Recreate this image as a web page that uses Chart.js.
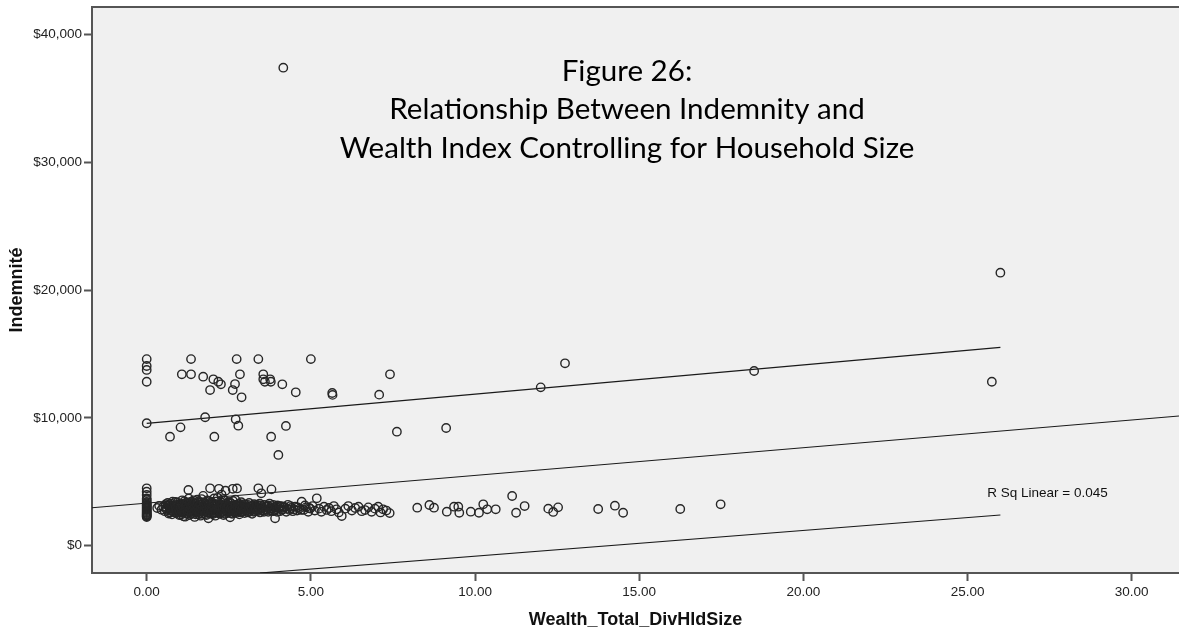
<!DOCTYPE html>
<html>
<head>
<meta charset="utf-8">
<script src="https://cdn.jsdelivr.net/npm/chart.js@4/dist/chart.umd.min.js"></script>
<style>
  html, body { margin: 0; padding: 0; background: #fff; }
  #wrap { width: 1179px; height: 632px; }
</style>
</head>
<body>
<div id="wrap"><canvas id="chart" width="1179" height="632"></canvas></div>
<script>
// axis ticks
const xTicks = [0, 5, 10, 15, 20, 25, 30];
const yTicks = [0, 10000, 20000, 30000, 40000];

// households with no recorded wealth (x = 0), low indemnity
const zeroWealthLow = [2240, 2300, 2360, 2420, 2480, 2550, 2620, 2700, 2780, 2850, 2930, 3000,
  3080, 3150, 3230, 3320, 3420, 3570, 3700, 3970, 4230, 4490];

// main low-indemnity cluster [wealth, indemnity]
const lowCluster = [
  [0.32, 2950], [0.38, 3120], [0.45, 2820], [0.5, 3050], [0.55, 2700], [0.58, 3250], [0.62, 2900],
  [0.66, 3150], [0.7, 2600], [0.68, 3000],
  [0.72, 2780], [0.74, 3300], [0.77, 2450], [0.8, 3080], [0.82, 2650], [0.85, 2900], [0.87, 3420],
  [0.9, 2550], [0.92, 3180], [0.95, 2750], [0.97, 3000], [0.99, 2400],
  [1.01, 3250], [1.03, 2850], [1.06, 2600], [1.08, 3550], [1.1, 2950], [1.12, 2300], [1.14, 3150],
  [1.17, 2700], [1.19, 3350], [1.21, 2500], [1.23, 3050], [1.25, 2800], [1.27, 4360], [1.28, 3700],
  [1.3, 2400], [1.32, 3200], [1.34, 2650], [1.36, 2950], [1.38, 3450], [1.4, 2550], [1.42, 3100],
  [1.44, 2750], [1.46, 2250], [1.48, 3300], [1.5, 2900], [1.17, 2270],
  [1.52, 2600], [1.54, 3600], [1.56, 3000], [1.58, 2450], [1.6, 3250], [1.62, 2800], [1.64, 2350],
  [1.66, 3400], [1.68, 2700], [1.7, 3100], [1.72, 3900], [1.74, 2550], [1.76, 2950], [1.78, 3300],
  [1.8, 2650], [1.82, 2400], [1.84, 3150], [1.86, 2850], [1.88, 2140], [1.9, 3500], [1.92, 2750],
  [1.93, 4490], [1.95, 3050], [1.97, 2500], [1.99, 3350],
  [2.01, 2900], [2.03, 2600], [2.05, 3700], [2.07, 3200], [2.09, 2350], [2.11, 2800], [2.13, 3450],
  [2.15, 2700], [2.17, 3000], [2.2, 4450], [2.22, 2500], [2.24, 3250], [2.26, 2850], [2.28, 4000],
  [2.3, 2650], [2.32, 3100], [2.34, 2400], [2.36, 3550], [2.38, 2950], [2.4, 4300], [2.42, 2750],
  [2.44, 3200], [2.46, 2550], [2.48, 3400], [2.5, 2900],
  [2.52, 3050], [2.54, 2220], [2.56, 2700], [2.58, 3300], [2.6, 2500], [2.62, 4450], [2.64, 2850],
  [2.66, 3150], [2.68, 2600], [2.7, 3600], [2.72, 2950], [2.75, 4480], [2.77, 2750], [2.79, 3250],
  [2.82, 2450], [2.84, 3050], [2.86, 2800], [2.88, 3400], [2.9, 2650], [2.93, 3100], [2.95, 2900],
  [2.98, 2550],
  [3.0, 3200], [3.03, 2750], [3.06, 3000], [3.09, 2600], [3.12, 3350], [3.15, 2850], [3.18, 3100],
  [3.21, 2500], [3.24, 2950], [3.27, 3250], [3.3, 2700], [3.33, 3050], [3.36, 2800], [3.4, 4490],
  [3.42, 3150], [3.45, 2600], [3.48, 2900], [3.49, 4100],
  [3.52, 3000], [3.55, 2750], [3.58, 3200], [3.62, 2850], [3.66, 3050], [3.7, 2650], [3.74, 3300],
  [3.78, 2900], [3.8, 4410], [3.82, 3100], [3.86, 2700], [3.9, 3000], [3.91, 2140], [3.95, 2850],
  [3.98, 3150],
  [4.02, 2950], [4.06, 2700], [4.1, 3100], [4.15, 2850], [4.2, 3000], [4.25, 2650], [4.3, 3200],
  [4.35, 2800], [4.4, 2950], [4.45, 2700],
  [4.52, 3050], [4.58, 2750], [4.65, 2900], [4.72, 3440], [4.78, 2800], [4.85, 3000], [4.92, 2650],
  [4.98, 2900],
  [5.05, 3100], [5.12, 2750], [5.18, 3710], [5.25, 2900], [5.32, 2650], [5.4, 3050], [5.48, 2800],
  [5.55, 2950], [5.62, 2700], [5.7, 3100], [5.78, 2850], [5.85, 2600], [5.94, 2320],
  [6.05, 2900], [6.14, 3100], [6.25, 2750], [6.35, 2950], [6.45, 3050], [6.55, 2700], [6.65, 2790],
  [6.75, 3000], [6.85, 2650], [6.95, 2900], [7.05, 3050], [7.12, 2600], [7.2, 2850], [7.3, 2750],
  [7.4, 2550]
];

// overplotted core of the cluster
const lowClusterCore = [
  [0.61, 2820], [0.64, 3350], [0.67, 2520], [0.71, 3180], [0.73, 2920], [0.76, 2700], [0.79, 3450],
  [0.81, 2850], [0.84, 3120], [0.86, 2580], [0.88, 3020], [0.91, 2780], [0.93, 3380], [0.96, 2640],
  [0.98, 3150],
  [1.0, 2700], [1.02, 3050], [1.04, 2420], [1.05, 3300], [1.07, 2780], [1.09, 3150], [1.11, 2620],
  [1.13, 2980], [1.15, 3480], [1.16, 2550], [1.18, 3080], [1.2, 2850], [1.22, 3250], [1.24, 2680],
  [1.26, 3000], [1.29, 2780], [1.31, 3400], [1.33, 2880], [1.35, 3080], [1.37, 2500], [1.39, 3250],
  [1.41, 2850], [1.43, 3550], [1.45, 2650], [1.47, 3020], [1.49, 2450],
  [1.51, 3180], [1.53, 2780], [1.55, 3420], [1.57, 2680], [1.59, 3050], [1.61, 2550], [1.63, 3200],
  [1.65, 2880], [1.67, 3650], [1.69, 2500], [1.71, 2980], [1.73, 3350], [1.75, 2720], [1.77, 3120],
  [1.79, 2480], [1.81, 3000], [1.83, 2820], [1.85, 3550], [1.87, 2600], [1.89, 3250], [1.91, 2950],
  [1.94, 2580], [1.96, 3400], [1.98, 2780],
  [2.0, 3100], [2.02, 2480], [2.04, 3300], [2.06, 2750], [2.08, 3050], [2.1, 2580], [2.12, 3150],
  [2.14, 2900], [2.16, 3750], [2.18, 2620], [2.21, 3000], [2.23, 2780], [2.25, 3450], [2.27, 2600],
  [2.29, 3150], [2.31, 2880], [2.33, 3650], [2.35, 2720], [2.37, 3050], [2.39, 2500], [2.41, 3300],
  [2.43, 2850], [2.45, 3000], [2.47, 2650], [2.49, 3150],
  [2.51, 2750], [2.53, 3400], [2.55, 2900], [2.57, 2550], [2.59, 3100], [2.61, 2800], [2.63, 3500],
  [2.65, 2650], [2.67, 3000], [2.69, 2850], [2.71, 3200], [2.73, 2550], [2.76, 3050], [2.78, 2700],
  [2.81, 3300], [2.83, 2900], [2.85, 2600], [2.87, 3150], [2.89, 2800], [2.92, 2980], [2.94, 2700],
  [2.97, 3250], [2.99, 2850],
  [3.02, 3050], [3.05, 2650], [3.08, 3200], [3.11, 2900], [3.14, 2700], [3.17, 3000], [3.2, 2800],
  [3.23, 3150], [3.26, 2650], [3.29, 3000], [3.32, 2850], [3.35, 3200], [3.38, 2700], [3.41, 2950],
  [3.44, 3300], [3.47, 2780],
  [3.5, 3150], [3.54, 2900], [3.57, 2650], [3.61, 3050], [3.65, 2800], [3.69, 3150], [3.73, 2900],
  [3.77, 2750], [3.81, 2950], [3.85, 3200], [3.89, 2800], [3.93, 3050], [3.97, 2650],
  [4.04, 3100], [4.12, 2800], [4.18, 3050], [4.28, 2900], [4.38, 3100], [4.48, 2850], [4.6, 3000],
  [4.7, 2800], [4.82, 3150], [4.95, 2950]
];

// sparse low-indemnity tail at higher wealth
const lowTail = [
  [8.24, 2975], [8.61, 3185], [8.75, 2975], [9.14, 2660], [9.36, 3050], [9.49, 3050], [9.52, 2580],
  [9.87, 2660], [10.12, 2580], [10.25, 3240], [10.37, 2850], [10.63, 2850], [11.13, 3890],
  [11.25, 2580], [11.51, 3100], [12.23, 2900], [12.38, 2640], [12.53, 3000], [13.75, 2870],
  [14.26, 3130], [14.51, 2580], [16.25, 2870], [17.48, 3240]
];

// high-indemnity band and outliers
const highBand = [
  [0, 14600], [0, 14060], [0, 13750], [0, 12830], [0, 9580],
  [1.35, 14600], [1.07, 13410], [1.35, 13410], [1.72, 13225], [2.03, 13020], [2.18, 12830],
  [2.26, 12630], [1.93, 12180], [2.74, 14600], [2.84, 13410], [2.69, 12650], [2.62, 12180],
  [2.89, 11610], [3.4, 14600], [3.55, 13410], [3.55, 13020], [3.6, 12830], [3.76, 13020],
  [3.78, 12830], [4.13, 12630], [4.54, 12000], [5.0, 14600], [5.65, 11950], [5.66, 11800],
  [4.24, 9370], [1.03, 9260], [1.78, 10050], [2.71, 9890], [2.79, 9390], [0.71, 8530],
  [2.06, 8530], [3.79, 8530], [4.01, 7100],
  [7.41, 13410], [7.08, 11820], [7.62, 8920], [9.12, 9210], [12.0, 12390], [12.74, 14270],
  [18.5, 13670], [26.0, 21360], [25.74, 12830], [4.16, 37400]
];

// linear fit and 95% individual prediction bounds (endpoints)
const fitLine = [[-1.666, 2970], [31.44, 10150]];
const upperBound = [[0, 9577], [26, 15524]];
const lowerBound = [[3.45, -2136], [26, 2402]];

const rSqText = 'R Sq Linear = 0.045';
const titleLines = ['Figure 26:', 'Relationship Between Indemnity and', 'Wealth Index Controlling for Household Size'];

const toPts = arr => arr.map(p => ({ x: p[0], y: p[1] }));

const scatterPts = [
  ...zeroWealthLow.map(v => ({ x: 0, y: v })),
  ...toPts(lowCluster),
  ...toPts(lowClusterCore),
  ...toPts(lowTail),
  ...toPts(highBand)
];

const tickFont = { family: 'Liberation Sans, Arial, sans-serif', size: 13.5 };
const axisTitleFont = { family: 'Liberation Sans, Arial, sans-serif', size: 18, weight: 'bold' };

function lineSet(arr) {
  return {
    type: 'line',
    data: toPts(arr),
    borderColor: '#1a1a1a',
    borderWidth: 1.2,
    pointRadius: 0,
    fill: false,
    tension: 0
  };
}

// plot background, top frame line, title and R² note
const decorations = {
  id: 'decorations',
  beforeDraw(chart) {
    const { ctx, chartArea: a } = chart;
    ctx.save();
    ctx.fillStyle = '#f0f0f0';
    ctx.fillRect(a.left, a.top, a.right - a.left, a.bottom - a.top);
    ctx.restore();
  },
  afterDraw(chart) {
    const { ctx, chartArea: a, scales } = chart;
    ctx.save();
    ctx.strokeStyle = '#555';
    ctx.lineWidth = 2;
    ctx.beginPath();
    ctx.moveTo(a.left - 1, a.top);
    ctx.lineTo(a.right, a.top);
    ctx.stroke();

    // title, sized so the longest line spans ~575px
    ctx.fillStyle = '#000';
    ctx.textAlign = 'center';
    ctx.textBaseline = 'alphabetic';
    ctx.font = '100px Lato';
    const widest = Math.max(...titleLines.map(t => ctx.measureText(t).width));
    const size = 100 * 575 / widest;
    ctx.font = size + 'px Lato';
    const baselines = [80.7, 119, 157.7];
    titleLines.forEach((t, i) => ctx.fillText(t, 627, baselines[i]));

    // R² note next to the upper end of the lower bound
    ctx.font = '13.5px "Liberation Sans", Arial, sans-serif';
    ctx.textAlign = 'left';
    ctx.textBaseline = 'middle';
    ctx.fillStyle = '#111';
    ctx.fillText(rSqText, scales.x.getPixelForValue(25.6), scales.y.getPixelForValue(4120));
    ctx.restore();
  }
};

new Chart(document.getElementById('chart'), {
  type: 'scatter',
  data: {
    datasets: [
      {
        data: scatterPts,
        pointRadius: 4.2,
        pointBorderWidth: 1.4,
        pointBorderColor: '#262626',
        pointBackgroundColor: 'rgba(0,0,0,0)',
        pointHoverRadius: 4.2
      },
      lineSet(fitLine),
      lineSet(upperBound),
      lineSet(lowerBound)
    ]
  },
  options: {
    responsive: false,
    animation: false,
    devicePixelRatio: 1,
    layout: { autoPadding: false, padding: { top: 7, right: 0, left: 0, bottom: 0 } },
    plugins: { legend: { display: false }, tooltip: { enabled: false } },
    scales: {
      x: {
        type: 'linear',
        min: -1.666,
        max: 31.44,
        afterBuildTicks: s => { s.ticks = xTicks.map(v => ({ value: v })); },
        afterFit: s => { s.height = 59; s.paddingLeft = 0; s.paddingRight = 0; },
        ticks: {
          font: tickFont,
          color: '#222',
          padding: 3,
          maxRotation: 0,
          callback: v => Number(v).toFixed(2)
        },
        grid: { drawOnChartArea: false, drawTicks: true, tickLength: 8, tickColor: '#555', tickWidth: 2 },
        border: { color: '#555', width: 2 },
        title: {
          display: true,
          text: 'Wealth_Total_DivHldSize',
          font: axisTitleFont,
          color: '#111',
          padding: { top: 0, bottom: 1 }
        }
      },
      y: {
        type: 'linear',
        min: -2136,
        max: 42151,
        afterBuildTicks: s => { s.ticks = yTicks.map(v => ({ value: v })); },
        afterFit: s => { s.width = 92; s.paddingTop = 0; s.paddingBottom = 0; },
        ticks: {
          font: tickFont,
          color: '#222',
          padding: 2,
          callback: v => '$' + Number(v).toLocaleString('en-US')
        },
        grid: { drawOnChartArea: false, drawTicks: true, tickLength: 8, tickColor: '#555', tickWidth: 2 },
        border: { color: '#555', width: 2 },
        title: {
          display: true,
          text: 'Indemnité',
          font: axisTitleFont,
          color: '#111',
          padding: { top: 6, bottom: 0 }
        }
      }
    }
  },
  plugins: [decorations]
});
</script>
</body>
</html>
